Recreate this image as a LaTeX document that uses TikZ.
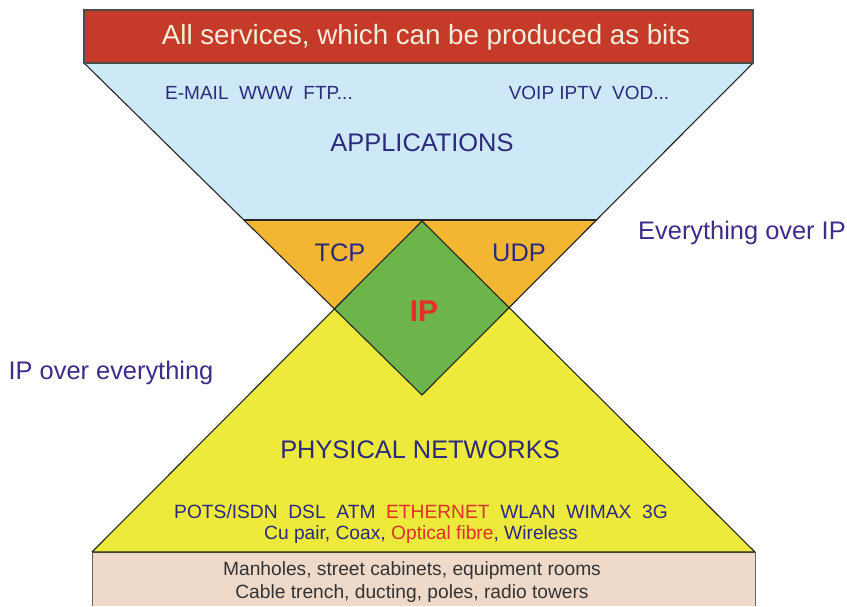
\documentclass[tikz,border=0pt]{standalone}
\usepackage{fontspec}
\setmainfont{Liberation Sans}
\definecolor{topred}{HTML}{C63A2A}
\definecolor{appblue}{HTML}{CDE8F6}
\definecolor{tporange}{HTML}{F2B632}
\definecolor{ipgreen}{HTML}{6DB44A}
\definecolor{phyyellow}{HTML}{EDEA3C}
\definecolor{civtan}{HTML}{EFDACA}
\definecolor{txtblue}{HTML}{2C2A7C}
\definecolor{txtpurple}{HTML}{3E2B8A}
\definecolor{txtred}{HTML}{E0302A}
\definecolor{txtgray}{HTML}{333333}
\definecolor{lightcream}{HTML}{F6EEDC}
\begin{document}
\begin{tikzpicture}[x=1pt,y=-1pt,
  outline/.style={draw=black!85,line width=1.1pt,line join=round},
  lbl/.style={inner sep=0pt,text=txtblue,font=\fontsize{25.4}{27}\selectfont},
  small/.style={inner sep=0pt,text=txtblue,font=\fontsize{19}{21}\selectfont},
  mid/.style={inner sep=0pt,text=txtblue,font=\fontsize{19.2}{21}\selectfont},
  civ/.style={inner sep=0pt,text=txtgray,font=\fontsize{19.2}{21}\selectfont}]
\useasboundingbox (0,0) rectangle (847,606);
% key points
\coordinate (TL) at (84,63);
\coordinate (TR) at (753,63);
\coordinate (Vb) at (422,395);
\coordinate (Ap) at (422,221);
\coordinate (BL) at (92,552);
\coordinate (BR) at (755,552);
\coordinate (HL) at (244,220);
\coordinate (HR) at (597,220);
\coordinate (DL) at (334,308);
\coordinate (DR) at (509,308);
% bottom civil works band
\fill[civtan] (92,552) rectangle (755,606);
\draw[draw=black!60,line width=1pt] (92,606) -- (92,552) -- (755,552) -- (755,606);
% physical networks triangle
\fill[phyyellow] (Ap) -- (BL) -- (BR) -- cycle;
% funnel (applications + transport)
\fill[tporange] (TL) -- (TR) -- (Vb) -- cycle;
\fill[appblue] (TL) -- (TR) -- (HR) -- (HL) -- cycle;
% IP diamond
\fill[ipgreen] (Ap) -- (DL) -- (Vb) -- (DR) -- cycle;
% outlines
\draw[outline] (TL) -- (Vb) -- (TR);
\draw[outline] (BL) -- (Ap) -- (BR) -- (BL);
\draw[outline] (HL) -- (HR);
% top banner
\draw[fill=topred,draw=black!70,line width=1.2pt] (84,10) rectangle (753,63);
\node[inner sep=0pt,text=lightcream,font=\fontsize{27.7}{30}\selectfont] (services) at (426,37) {All services, which can be produced as bits};
% applications
\node[small] (apps1) at (259,93) {E-MAIL\ \ WWW\ \ FTP...};
\node[small] (apps2) at (589,93) {VOIP IPTV\ \ VOD...};
\node[lbl] (applications) at (422,143) {APPLICATIONS};
% transport
\node[lbl] (tcp) at (340,253) {TCP};
\node[lbl] (udp) at (519,253) {UDP};
\node[inner sep=0pt,text=txtred,font=\fontsize{30}{32}\selectfont\bfseries] (ip) at (424,311) {IP};
% side notes
\node[lbl,text=txtpurple] (evip) at (742,233) {Everything over IP};
\node[lbl,text=txtpurple] (ipev) at (111,373) {IP over everything};
% physical
\node[lbl] (phys) at (420,450) {PHYSICAL NETWORKS};
\node[mid] (techs) at (421,512) {POTS/ISDN\ \ DSL\ \ ATM\ \ \textcolor{txtred}{ETHERNET}\ \ WLAN\ \ WIMAX\ \ 3G};
\node[mid] (media) at (421,535) {Cu pair, Coax, \textcolor{txtred}{Optical fibre}, Wireless};
% civil works
\node[civ] (civ1) at (412,571) {Manholes, street cabinets, equipment rooms};
\node[civ] (civ2) at (412,594) {Cable trench, ducting, poles, radio towers};
\end{tikzpicture}
\end{document}
